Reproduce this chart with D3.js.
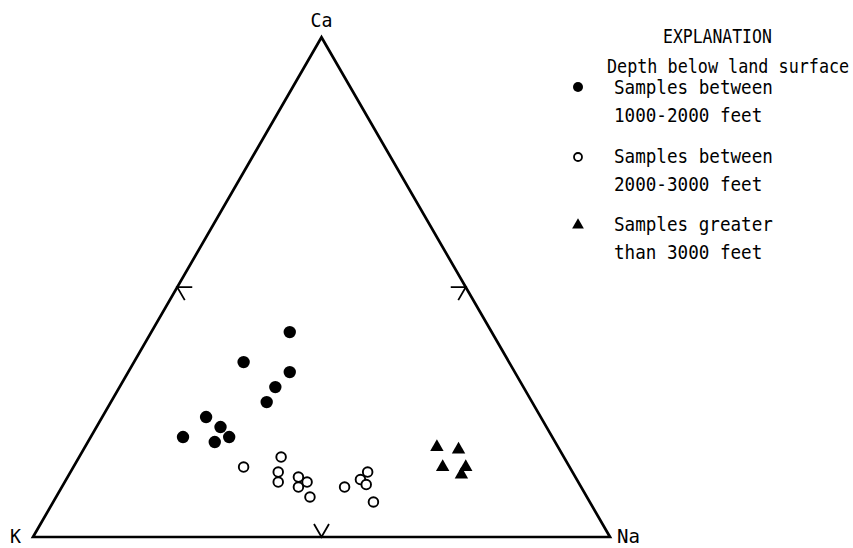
<!DOCTYPE html>
<html>
<head>
<meta charset="utf-8">
<script src="https://cdn.jsdelivr.net/npm/d3@7/dist/d3.min.js"></script>
<style>
  html, body { margin: 0; padding: 0; background: #fff; }
  svg { display: block; }
  text { font-family: "DejaVu Sans Mono", monospace; fill: #000; }
</style>
</head>
<body>
<svg id="chart" width="853" height="548"></svg>
<script>
// Cation composition, percent of Ca + Na + K; each row is [Ca, Na, K]
const shallowSamples = [
  [41, 24, 35], [35, 19, 46], [33, 28, 39], [30, 27, 43], [27, 27, 46],
  [24, 18, 58], [22, 21.5, 56.5], [20, 24, 56], [19, 22, 59], [20, 16, 64]
];
const middleSamples = [
  [14, 29.5, 56.5], [16, 35, 49], [13, 36, 51], [11, 37, 52], [12, 40, 48],
  [10, 41, 49], [11, 42, 47], [8, 44, 48], [10, 49, 41], [11.5, 51, 37.5],
  [13, 51.5, 35.5], [10.5, 52.5, 37], [7, 55.5, 37.5]
];
const deepSamples = [
  [18, 61, 21], [17.5, 65, 17.5], [14, 64, 22], [14, 68, 18], [12.5, 68, 19.5]
];

const vertexLabels = ["Ca", "K", "Na"];
const legendTitle = "EXPLANATION";
const legendSubtitle = "Depth below land surface";
const legendEntries = [
  ["Samples between", "1000-2000 feet"],
  ["Samples between", "2000-3000 feet"],
  ["Samples greater", "than 3000 feet"]
];
const midTick = 50;

const svg = d3.select("#chart");

// Condensed typewriter-style text: monospace glyphs squeezed to a set advance
const FONT_SIZE = 19.5;
const MONO_ADVANCE = 0.602; // em width of one DejaVu Sans Mono glyph
function label(parent, str, x, y, advance, anchor) {
  const k = advance / (MONO_ADVANCE * FONT_SIZE);
  return parent.append("text").text(str)
    .attr("transform", `translate(${x},${y}) scale(${k},1)`)
    .attr("font-size", FONT_SIZE)
    .attr("text-anchor", anchor || "start");
}

// Triangle geometry: K bottom-left, Na bottom-right, Ca apex
const origin = { x: 33, y: 537 };
const side = 577;
const height = side * Math.sqrt(3) / 2;
const sx = d3.scaleLinear().domain([0, 100]).range([0, side]);
const sy = d3.scaleLinear().domain([0, 100]).range([0, height]);

function project(ca, na) {
  return [origin.x + sx(na + ca / 2), origin.y - sy(ca)];
}

const pCa = project(100, 0), pK = project(0, 0), pNa = project(0, 100);

svg.append("path")
  .attr("d", d3.line()([pK, pCa, pNa, pK]) + "Z")
  .attr("fill", "none")
  .attr("stroke", "#000")
  .attr("stroke-width", 2.7)
  .attr("stroke-linejoin", "miter");

// 50% tick marks drawn as small chevrons on each side
const armLen = 15;
const rad = Math.PI / 180;
function chevron(pt, angles) {
  const a = [pt[0] + armLen * Math.cos(angles[0] * rad), pt[1] + armLen * Math.sin(angles[0] * rad)];
  const b = [pt[0] + armLen * Math.cos(angles[1] * rad), pt[1] + armLen * Math.sin(angles[1] * rad)];
  svg.append("path")
    .attr("d", d3.line()([a, pt, b]))
    .attr("fill", "none")
    .attr("stroke", "#000")
    .attr("stroke-width", 1.8);
}
chevron(project(midTick, 0), [0, 60]);                // K–Ca side
chevron(project(midTick, 100 - midTick), [180, 120]); // Ca–Na side
chevron(project(0, midTick), [-120, -60]);            // K–Na side

// Vertex labels
label(svg, vertexLabels[0], pCa[0], pCa[1] - 10, 11, "middle");
label(svg, vertexLabels[1], pK[0] - 12, pK[1] + 6, 11, "end");
label(svg, vertexLabels[2], pNa[0] + 7, pNa[1] + 6, 11.5, "start");

// Samples
const plot = svg.append("g");
plot.selectAll("circle.shallow").data(shallowSamples).join("circle")
  .attr("class", "shallow")
  .attr("cx", d => project(d[0], d[1])[0])
  .attr("cy", d => project(d[0], d[1])[1])
  .attr("r", 6.2)
  .attr("fill", "#000");

plot.selectAll("circle.middle").data(middleSamples).join("circle")
  .attr("class", "middle")
  .attr("cx", d => project(d[0], d[1])[0])
  .attr("cy", d => project(d[0], d[1])[1])
  .attr("r", 4.8)
  .attr("fill", "#fff")
  .attr("stroke", "#000")
  .attr("stroke-width", 1.9);

const tri = d3.symbol().type(d3.symbolTriangle).size(78);
plot.selectAll("path.deep").data(deepSamples).join("path")
  .attr("class", "deep")
  .attr("transform", d => `translate(${project(d[0], d[1])})`)
  .attr("d", tri)
  .attr("fill", "#000");

// Legend
const lg = svg.append("g");
label(lg, legendTitle, 663, 43, 9.9);
label(lg, legendSubtitle, 607, 73, 10.1);

const entryTop = [94, 163, 231];
const lineGap = 28;
legendEntries.forEach((lines, i) => {
  lines.forEach((t, j) => {
    label(lg, t, 614, entryTop[i] + j * lineGap, 10.6);
  });
});
const symX = 578;
lg.append("circle").attr("cx", symX).attr("cy", entryTop[0] - 7).attr("r", 5).attr("fill", "#000");
lg.append("circle").attr("cx", symX).attr("cy", entryTop[1] - 6).attr("r", 4)
  .attr("fill", "#fff").attr("stroke", "#000").attr("stroke-width", 1.8);
lg.append("path").attr("transform", `translate(${symX},${entryTop[2] - 6})`)
  .attr("d", d3.symbol().type(d3.symbolTriangle).size(60)).attr("fill", "#000");
</script>
</body>
</html>
